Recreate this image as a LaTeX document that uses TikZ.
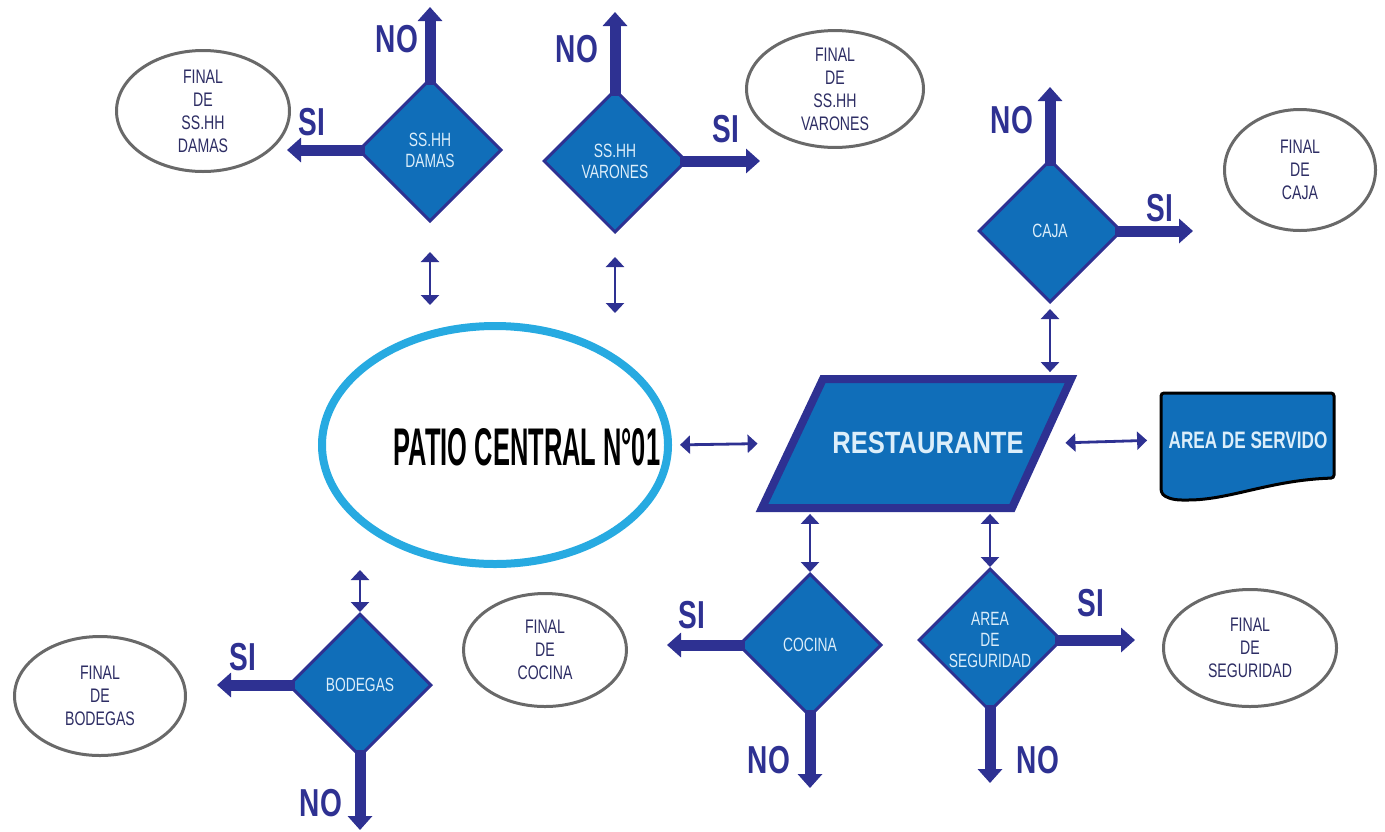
\documentclass[tikz,border=0pt]{standalone}
\usepackage{fontspec}
\setmainfont{Liberation Sans}[FakeStretch=0.72]
\newfontfamily\patiofont{Liberation Sans}[FakeStretch=0.48]
\newfontfamily\restfont{Liberation Sans}[FakeStretch=0.83]
\usetikzlibrary{shapes.geometric,arrows.meta,calc}
\definecolor{navyblue}{RGB}{46,49,146}
\definecolor{boxblue}{RGB}{16,110,185}
\definecolor{patiocyan}{RGB}{39,170,225}
\definecolor{ringgray}{RGB}{105,105,105}
\definecolor{lighttext}{RGB}{220,238,250}
\definecolor{finaltext}{RGB}{45,45,100}
\begin{document}
\begin{tikzpicture}[x=0.5pt,y=-0.5pt,
	decision/.style={diamond,aspect=1,draw=navyblue,line width=1.5pt,fill=boxblue,minimum width=71.5pt,minimum height=71.5pt,inner sep=0pt,align=center,text=lighttext,font=\fontsize{9.6}{10.5}\selectfont},
	ending/.style={ellipse,draw=ringgray,line width=1.5pt,fill=white,inner sep=0pt,align=center,text=finaltext,font=\fontsize{9.8}{11.5}\selectfont},
	answer/.style={text=navyblue,inner sep=0pt,font=\fontsize{19.5}{20}\selectfont\bfseries},
	bigarrow/.style={draw=navyblue,line width=5.5pt,shorten <=-4pt,-{Triangle[width=12pt,length=7pt]}},
	twoway/.style={draw=navyblue,line width=1.4pt,{Triangle[width=9pt,length=5pt]}-{Triangle[width=9pt,length=5pt]}}]
		\useasboundingbox (0,0) rectangle (1385,831);
		\node[ellipse,draw=patiocyan,line width=4pt,minimum width=173pt,minimum height=119pt] (patio) at (495,445) {};
		\node[inner sep=0pt,font=\patiofont\bfseries\fontsize{26.5}{30}\selectfont] (patiolbl) at (527,447) {PATIO CENTRAL N°01};
		\filldraw[draw=navyblue,fill=boxblue,line width=4pt] (823,379) -- (1071,379) -- (1012,508) -- (762,508) -- cycle;
		\node[inner sep=0pt,minimum width=130pt,minimum height=68.5pt,text=lighttext,font=\restfont\bfseries\fontsize{15.4}{18}\selectfont] (rest) at (928,443) {RESTAURANTE};
		\filldraw[draw=black,fill=boxblue,line width=1.5pt,rounded corners=1.5pt] (1161,393) -- (1334,393) -- (1334,478) .. controls (1270,480) and (1230,500) .. (1185,500) .. controls (1172,500) and (1165,497) .. (1161,492) -- cycle;
		\node[inner sep=0pt,minimum width=86.5pt,text=lighttext,font=\fontsize{11.9}{14}\selectfont\bfseries] (servido) at (1248,440) {AREA DE SERVIDO};
		\node[decision] (damas) at (430,150) {SS.HH\\DAMAS};
		\node[decision] (varones) at (615,161) {SS.HH\\VARONES};
		\node[decision] (caja) at (1050,231) {CAJA};
		\node[decision] (cocina) at (810,645) {COCINA};
		\node[decision] (seguridad) at (990,640) {AREA\\DE\\SEGURIDAD};
		\node[decision] (bodegas) at (360,685) {BODEGAS};
		\node[ending,minimum width=86.5pt,minimum height=60.5pt] (finDamas) at (203,111) {FINAL\\DE\\SS.HH\\DAMAS};
		\node[ending,minimum width=88.5pt,minimum height=54.5pt] (finVarones) at (835,89) {FINAL\\DE\\SS.HH\\VARONES};
		\node[ending,minimum width=75.5pt,minimum height=60.5pt] (finCaja) at (1300,170) {FINAL\\DE\\CAJA};
		\node[ending,minimum width=81.5pt,minimum height=56.5pt] (finCocina) at (545,650) {FINAL\\DE\\COCINA};
		\node[ending,minimum width=86.5pt,minimum height=58.5pt] (finSeguridad) at (1250,648) {FINAL\\DE\\SEGURIDAD};
		\node[ending,minimum width=85.5pt,minimum height=59.5pt] (finBodegas) at (100,696) {FINAL\\DE\\BODEGAS};
		\coordinate (damasNo) at (430,7);
		\coordinate (damasSi) at (287,150);
		\coordinate (varonesNo) at (615,12);
		\coordinate (varonesSi) at (760,161);
		\coordinate (cajaNo) at (1050,87);
		\coordinate (cajaSi) at (1193,231);
		\coordinate (cocinaSi) at (667,645);
		\coordinate (cocinaNo) at (810,788);
		\coordinate (seguridadSi) at (1135,640);
		\coordinate (seguridadNo) at (990,783);
		\coordinate (bodegasSi) at (217,685);
		\coordinate (bodegasNo) at (360,830);
		\draw[bigarrow] (damas.north) -- (damasNo);
		\draw[bigarrow] (damas.west) -- (damasSi);
		\draw[bigarrow] (varones.north) -- (varonesNo);
		\draw[bigarrow] (varones.east) -- (varonesSi);
		\draw[bigarrow] (caja.north) -- (cajaNo);
		\draw[bigarrow] (caja.east) -- (cajaSi);
		\draw[bigarrow] (cocina.west) -- (cocinaSi);
		\draw[bigarrow] (cocina.south) -- (cocinaNo);
		\draw[bigarrow] (seguridad.east) -- (seguridadSi);
		\draw[bigarrow] (seguridad.south) -- (seguridadNo);
		\draw[bigarrow] (bodegas.west) -- (bodegasSi);
		\draw[bigarrow] (bodegas.south) -- (bodegasNo);
		\node[answer] (damasNoTxt) at (397,39) {NO};
		\node[answer] (damasSiTxt) at (312,122) {SI};
		\node[answer] (varonesNoTxt) at (577,49) {NO};
		\node[answer] (varonesSiTxt) at (726,129) {SI};
		\node[answer] (cajaNoTxt) at (1012,120) {NO};
		\node[answer] (cajaSiTxt) at (1160,208) {SI};
		\node[answer] (cocinaSiTxt) at (692,615) {SI};
		\node[answer] (cocinaNoTxt) at (769,760) {NO};
		\node[answer] (seguridadSiTxt) at (1091,603) {SI};
		\node[answer] (seguridadNoTxt) at (1038,760) {NO};
		\node[answer] (bodegasSiTxt) at (243,657) {SI};
		\node[answer] (bodegasNoTxt) at (321,803) {NO};
		\draw[twoway,shorten <=14.5pt,shorten >=8.5pt] (damas.south) -- (damas.south |- patio.north);
		\draw[twoway,shorten <=11.5pt,shorten >=4.5pt] (varones.south) -- (varones.south |- patio.north);
		\draw[twoway,shorten <=4pt,shorten >=20pt] (patio.east) -- (rest.west);
		\draw[twoway,shorten <=3.5pt,shorten >=7pt] (rest.east) -- (servido.west);
		\draw[twoway,shorten <=2.5pt,shorten >=1pt] (caja.south) -- (caja.south |- rest.north);
		\draw[twoway,shorten <=1pt] (rest.south -| cocina.north) -- (cocina.north);
		\draw[twoway,shorten <=1pt] (rest.south -| seguridad.north) -- (seguridad.north);
		\draw[twoway,shorten <=1pt] (patio.south -| bodegas.north) -- (bodegas.north);
\end{tikzpicture}
\end{document}
